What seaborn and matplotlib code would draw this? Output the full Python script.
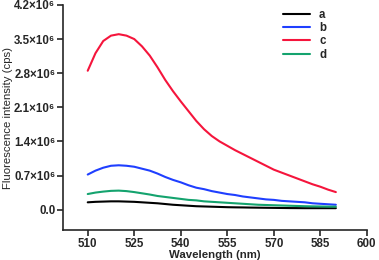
import numpy as np
import pandas as pd
import seaborn as sns
import matplotlib
matplotlib.use("Agg")
import matplotlib.pyplot as plt

# wavelength grid (nm) and emission spectra (x1e6 cps)
wavelength = [510, 512.5, 515, 517.5, 520, 522.5, 525, 527.5, 530, 532.5, 535,
              537.5, 540, 542.5, 545, 547.5, 550, 552.5, 555, 557.5, 560, 562.5,
              565, 567.5, 570, 572.5, 575, 577.5, 580, 582.5, 585, 587.5, 590]
spec_a = [0.15, 0.16, 0.165, 0.17, 0.17, 0.165, 0.16, 0.15, 0.14, 0.13, 0.115,
          0.10, 0.09, 0.08, 0.07, 0.065, 0.06, 0.055, 0.05, 0.047, 0.045, 0.042,
          0.04, 0.038, 0.036, 0.034, 0.032, 0.031, 0.03, 0.03, 0.03, 0.03, 0.03]
spec_b = [0.72, 0.80, 0.86, 0.90, 0.91, 0.90, 0.88, 0.84, 0.80, 0.74, 0.67,
          0.61, 0.56, 0.50, 0.45, 0.42, 0.38, 0.35, 0.32, 0.30, 0.27, 0.25,
          0.23, 0.21, 0.20, 0.18, 0.17, 0.16, 0.15, 0.13, 0.12, 0.11, 0.10]
spec_c = [2.85, 3.21, 3.46, 3.57, 3.60, 3.57, 3.50, 3.35, 3.16, 2.92, 2.66,
          2.43, 2.22, 2.02, 1.82, 1.65, 1.51, 1.40, 1.31, 1.22, 1.14, 1.06,
          0.98, 0.90, 0.82, 0.76, 0.70, 0.64, 0.58, 0.52, 0.47, 0.41, 0.36]
spec_d = [0.32, 0.35, 0.37, 0.385, 0.39, 0.38, 0.36, 0.335, 0.31, 0.28, 0.26,
          0.24, 0.22, 0.20, 0.19, 0.17, 0.16, 0.15, 0.14, 0.13, 0.12, 0.11,
          0.10, 0.095, 0.09, 0.085, 0.08, 0.075, 0.07, 0.067, 0.065, 0.062, 0.06]

labels = ["a", "b", "c", "d"]
colors = ["#000000", "#1f3fff", "#f5153c", "#14a36e"]

x_ticks = [510, 525, 540, 555, 570, 585, 600]
y_ticks = [0.0, 0.7, 1.4, 2.1, 2.8, 3.5, 4.2]
y_ticklabels = ["0.0", "0.7×10⁶", "1.4×10⁶", "2.1×10⁶", "2.8×10⁶", "3.5×10⁶", "4.2×10⁶"]

frames = []
for lab, vals in zip(labels, [spec_a, spec_b, spec_c, spec_d]):
    frames.append(pd.DataFrame({"wl": wavelength, "val": vals, "sample": lab}))
df = pd.concat(frames, ignore_index=True)

sns.set_style("ticks")
plt.rcParams["font.family"] = ["Liberation Sans", "DejaVu Sans"]

fig = plt.figure(figsize=(3.79, 2.60), dpi=100)
ax = fig.add_axes([0.166, 0.115, 0.802, 0.866])

sns.lineplot(data=df, x="wl", y="val", hue="sample", palette=colors,
             linewidth=1.5, ax=ax, legend=True)

ax.set_xlim(502, 600)
ax.set_ylim(-0.42, 4.2)
ax.set_xticks(x_ticks)
ax.set_yticks(y_ticks)
ax.set_yticklabels(y_ticklabels)
ax.tick_params(axis="both", direction="out", length=4, width=1.2, labelsize=8.3, pad=1.5)
for t in ax.get_xticklabels() + ax.get_yticklabels():
    t.set_fontweight("bold")
ax.set_xlabel("Wavelength (nm)", fontsize=8.2, fontweight="bold", labelpad=0)
ax.set_ylabel("Fluorescence intensity (cps)", fontsize=8.2, labelpad=1)

for s in ["top", "right"]:
    ax.spines[s].set_visible(False)
for s in ["left", "bottom"]:
    ax.spines[s].set_linewidth(1.2)

leg = ax.legend(loc="upper right", bbox_to_anchor=(0.90, 1.03), frameon=False,
                fontsize=8.3, handlelength=2.3, labelspacing=0.12, handletextpad=0.8)
for t in leg.get_texts():
    t.set_fontweight("bold")

fig.savefig("out.png", dpi=100)
